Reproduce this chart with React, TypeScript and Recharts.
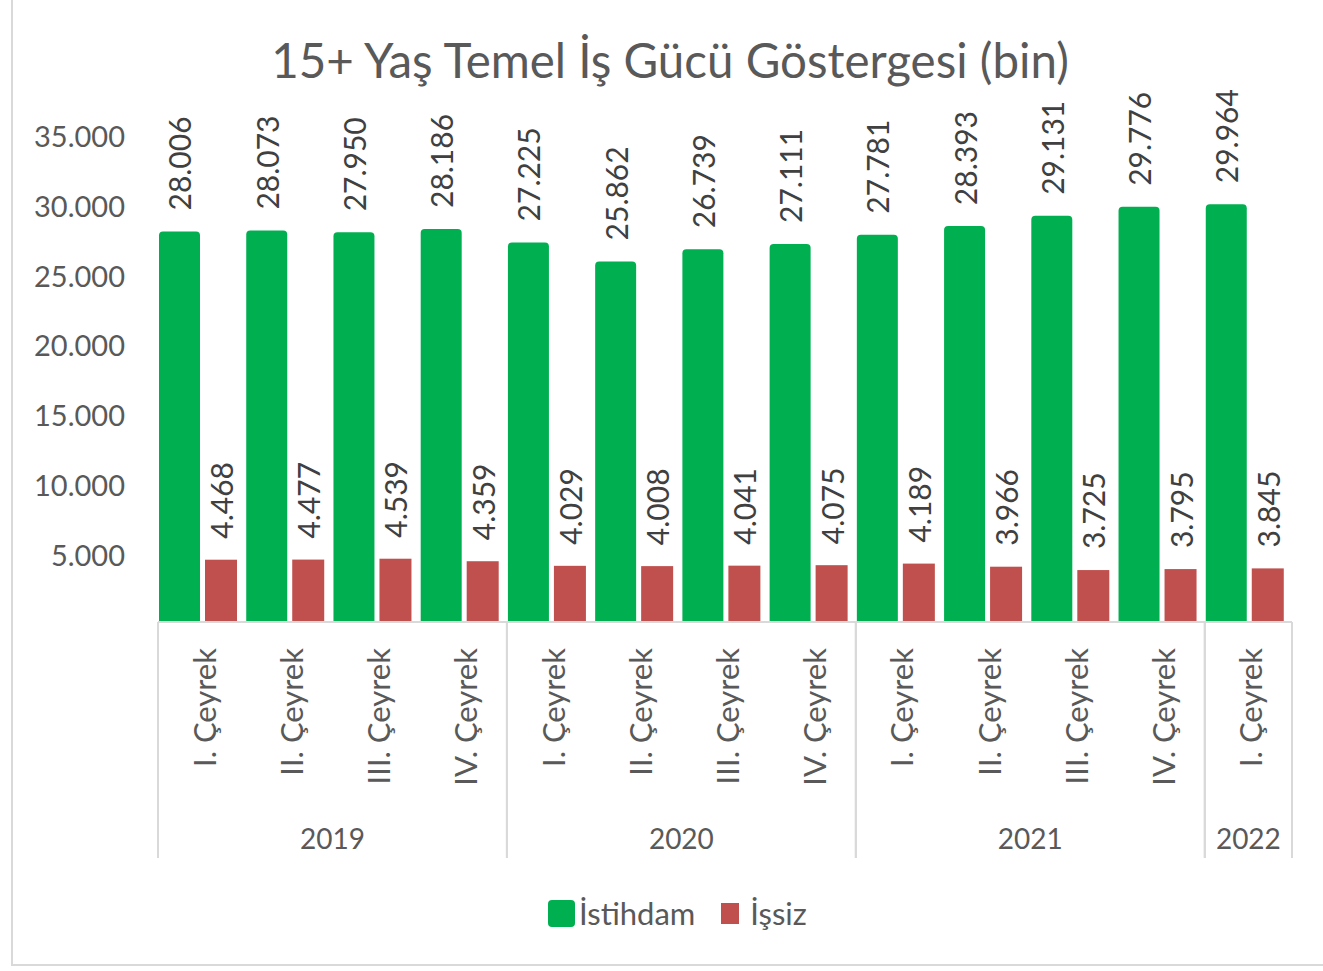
import { BarChart, Bar, XAxis, YAxis, LabelList } from "recharts";

const quarters = [
  "I. Çeyrek", "II. Çeyrek", "III. Çeyrek", "IV. Çeyrek",
  "I. Çeyrek", "II. Çeyrek", "III. Çeyrek", "IV. Çeyrek",
  "I. Çeyrek", "II. Çeyrek", "III. Çeyrek", "IV. Çeyrek",
  "I. Çeyrek",
];
const years = ["2019", "2019", "2019", "2019", "2020", "2020", "2020", "2020", "2021", "2021", "2021", "2021", "2022"];
const istihdam = [28006, 28073, 27950, 28186, 27225, 25862, 26739, 27111, 27781, 28393, 29131, 29776, 29964];
const issiz = [4468, 4477, 4539, 4359, 4029, 4008, 4041, 4075, 4189, 3966, 3725, 3795, 3845];
const yTicks = [0, 5000, 10000, 15000, 20000, 25000, 30000, 35000];

const GREEN = "#00B050";
const RED = "#C0504D";
const AXIS_TXT = "#595959";
const LABEL_TXT = "#404040";
const GRID = "#D9D9D9";
const FONT = "Lato, 'Noto Sans', sans-serif";

const data = quarters.map((q, i) => ({
  key: `${years[i]}-${i}`,
  quarter: q,
  year: years[i],
  istihdam: istihdam[i],
  issiz: issiz[i],
}));

const fmt = (v: number) => v.toLocaleString("de-DE");

// bar shapes: green slightly wider with rounded top, red narrower
const GREEN_W = 41;
const GREEN_DX = 1;
const RED_W = 32;
const RED_DX = 3;

function GreenShape(props: any) {
  const { x, y, height } = props;
  const x0 = x + GREEN_DX;
  const r = 4;
  const bottom = y + height;
  const d = `M${x0},${bottom} L${x0},${y + r} Q${x0},${y} ${x0 + r},${y} L${x0 + GREEN_W - r},${y} Q${x0 + GREEN_W},${y} ${x0 + GREEN_W},${y + r} L${x0 + GREEN_W},${bottom} Z`;
  return <path d={d} fill={GREEN} />;
}

function RedShape(props: any) {
  const { x, y, height } = props;
  return <rect x={x + RED_DX} y={y} width={RED_W} height={height} fill={RED} />;
}

const makeLabel = (dx: number, w: number) => (props: any) => {
  const { x, y, value } = props;
  const cx = x + dx + w / 2;
  const ty = y - 21;
  return (
    <text
      x={cx}
      y={ty}
      transform={`rotate(-90, ${cx}, ${ty})`}
      textAnchor="start"
      dominantBaseline="central"
      fontSize={30}
      fontFamily={FONT}
      fill={LABEL_TXT}
    >
      {fmt(value)}
    </text>
  );
};

function QuarterTick(props: any) {
  const { x, y, payload, index } = props;
  const i = payload?.index ?? index;
  const half = payload?.offset || 43.6;
  const year = years[i];
  const isFirst = i === 0 || years[i - 1] !== year;
  const isLast = i === years.length - 1 || years[i + 1] !== year;
  const groupSize = years.filter((v) => v === year).length;
  const tx = x + 2;
  const ty = y + 26;
  return (
    <g>
      <text
        x={tx}
        y={ty}
        transform={`rotate(-90, ${tx}, ${ty})`}
        textAnchor="end"
        dominantBaseline="central"
        fontSize={31}
        fontFamily={FONT}
        fill={AXIS_TXT}
      >
        {quarters[i]}
      </text>
      {isFirst && (
        <>
          <line x1={x - half} y1={y} x2={x - half} y2={y + 236} stroke={GRID} strokeWidth={2} />
          <text
            x={x - half + groupSize * half}
            y={y + 216}
            textAnchor="middle"
            dominantBaseline="central"
            fontSize={28}
            fontFamily={FONT}
            fill={AXIS_TXT}
          >
            {year}
          </text>
        </>
      )}
      {isLast && <line x1={x + half} y1={y} x2={x + half} y2={y + 236} stroke={GRID} strokeWidth={2} />}
    </g>
  );
}

const legendItems = [
  { name: "İstihdam", color: GREEN, w: 27, h: 27, r: 4, gap: 4, after: 26 },
  { name: "İşsiz", color: RED, w: 18, h: 21, r: 0, gap: 11, after: 0 },
];

export default function App() {
  return (
    <div style={{ position: "relative", width: 1323, height: 971, background: "#fff", overflow: "hidden", fontFamily: FONT }}>
      <style>{`body{margin:0}`}</style>
      <div
        style={{
          position: "absolute",
          left: 11,
          top: -2,
          width: 1320,
          height: 968,
          border: `2px solid ${GRID}`,
          boxSizing: "border-box",
        }}
      />
      <div
        style={{
          position: "absolute",
          left: 0,
          top: 30,
          width: 1340,
          textAlign: "center",
          fontSize: 47.5,
          lineHeight: "60px",
          color: AXIS_TXT,
        }}
      >
        15+ Yaş Temel İş Gücü Göstergesi (bin)
      </div>
      <div style={{ position: "absolute", left: 0, top: 0 }}>
        <BarChart
          width={1323}
          height={971}
          data={data}
          margin={{ top: 134, right: 31, bottom: 113, left: 0 }}
          barCategoryGap={0}
          barGap={0}
        >
          <XAxis
            dataKey="key"
            interval={0}
            height={236}
            tickLine={false}
            tickSize={0}
            tickMargin={0}
            axisLine={{ stroke: GRID, strokeWidth: 2 }}
            tick={<QuarterTick />}
          />
          <YAxis
            width={158}
            domain={[0, 35000]}
            ticks={yTicks}
            axisLine={false}
            tickLine={false}
            tickSize={0}
            tickMargin={33}
            tickFormatter={(v: number) => (v === 0 ? "" : fmt(v))}
            tick={{ fontSize: 29, fontFamily: FONT, fill: AXIS_TXT, dy: 3 }}
          />
          <Bar dataKey="istihdam" name="İstihdam" fill={GREEN} shape={<GreenShape />} isAnimationActive={false}>
            <LabelList dataKey="istihdam" content={makeLabel(GREEN_DX, GREEN_W)} />
          </Bar>
          <Bar dataKey="issiz" name="İşsiz" fill={RED} shape={<RedShape />} isAnimationActive={false}>
            <LabelList dataKey="issiz" content={makeLabel(RED_DX, RED_W)} />
          </Bar>
        </BarChart>
      </div>
      <div
        style={{
          position: "absolute",
          left: 548,
          top: 896,
          display: "flex",
          alignItems: "center",
          height: 34,
          fontSize: 31,
          color: AXIS_TXT,
        }}
      >
        {legendItems.map((it) => (
          <div key={it.name} style={{ display: "flex", alignItems: "center", marginRight: it.after }}>
            <span
              style={{
                display: "inline-block",
                width: it.w,
                height: it.h,
                background: it.color,
                borderRadius: it.r,
                marginRight: it.gap,
              }}
            />
            <span>{it.name}</span>
          </div>
        ))}
      </div>
    </div>
  );
}
